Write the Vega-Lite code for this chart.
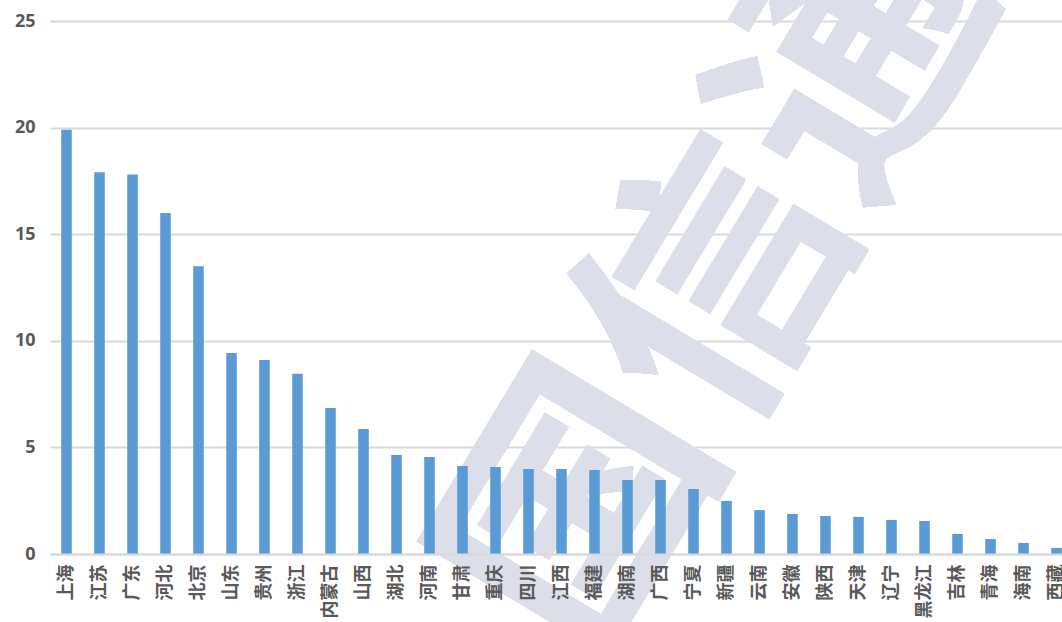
{
  "$schema": "https://vega.github.io/schema/vega-lite/v6.json",
  "width": 1012,
  "height": 533,
  "autosize": {"type": "none"},
  "padding": {"left": 50, "top": 21, "right": 0, "bottom": 68},
  "background": "white",
  "config": {"view": {"stroke": null}},
  "data": {"values": [
    {"province": "上海", "value": 19.9},
    {"province": "江苏", "value": 17.9},
    {"province": "广东", "value": 17.8},
    {"province": "河北", "value": 16.0},
    {"province": "北京", "value": 13.5},
    {"province": "山东", "value": 9.43},
    {"province": "贵州", "value": 9.1},
    {"province": "浙江", "value": 8.45},
    {"province": "内蒙古", "value": 6.85},
    {"province": "山西", "value": 5.86},
    {"province": "湖北", "value": 4.64},
    {"province": "河南", "value": 4.55},
    {"province": "甘肃", "value": 4.13},
    {"province": "重庆", "value": 4.08},
    {"province": "四川", "value": 3.99},
    {"province": "江西", "value": 3.99},
    {"province": "福建", "value": 3.94},
    {"province": "湖南", "value": 3.47},
    {"province": "广西", "value": 3.47},
    {"province": "宁夏", "value": 3.05},
    {"province": "新疆", "value": 2.49},
    {"province": "云南", "value": 2.06},
    {"province": "安徽", "value": 1.88},
    {"province": "陕西", "value": 1.78},
    {"province": "天津", "value": 1.74},
    {"province": "辽宁", "value": 1.6},
    {"province": "黑龙江", "value": 1.55},
    {"province": "吉林", "value": 0.94},
    {"province": "青海", "value": 0.7},
    {"province": "海南", "value": 0.52},
    {"province": "西藏", "value": 0.28}
  ]},
  "layer": [
    {
      "mark": {"type": "text", "text": "国信通", "angle": -59, "fontSize": 265, "fontWeight": "bold",
               "font": "Noto Sans CJK SC", "color": "#dcdfe9",
               "align": "center", "baseline": "middle"},
      "encoding": {
        "x": {"datum": "新疆"},
        "y": {"datum": 12.5}
      }
    },
    {
      "mark": {"type": "bar", "color": "#5b9bd5", "clip": true},
      "encoding": {
        "x": {
          "field": "province", "type": "nominal", "sort": null,
          "scale": {
            "domain": ["上海","江苏","广东","河北","北京","山东","贵州","浙江","内蒙古","山西","湖北","河南","甘肃","重庆","四川","江西","福建","湖南","广西","宁夏","新疆","云南","安徽","陕西","天津","辽宁","黑龙江","吉林","青海","海南","西藏"],
            "range": [0, 1023], "paddingInner": 0.68, "paddingOuter": 0.34
          },
          "axis": {
            "title": null, "labelAngle": -90, "ticks": false, "zindex": 1,
            "domain": true, "domainColor": "#d9d9d9", "domainWidth": 2,
            "labelFont": "Noto Sans CJK SC", "labelFontSize": 18, "labelFontWeight": "bold",
            "labelColor": "#595959", "labelPadding": 10, "labelOverlap": false, "labelBound": false
          }
        },
        "y": {
          "field": "value", "type": "quantitative",
          "scale": {"domain": [0, 25], "nice": false},
          "axis": {
            "title": null, "values": [0, 5, 10, 15, 20, 25], "domain": false, "ticks": false,
            "grid": true, "gridColor": "#d9d9d9", "gridWidth": 2,
            "labelFont": "Noto Sans", "labelFontSize": 18, "labelFontWeight": "bold",
            "labelColor": "#595959", "labelPadding": 15
          }
        }
      }
    }
  ]
}
